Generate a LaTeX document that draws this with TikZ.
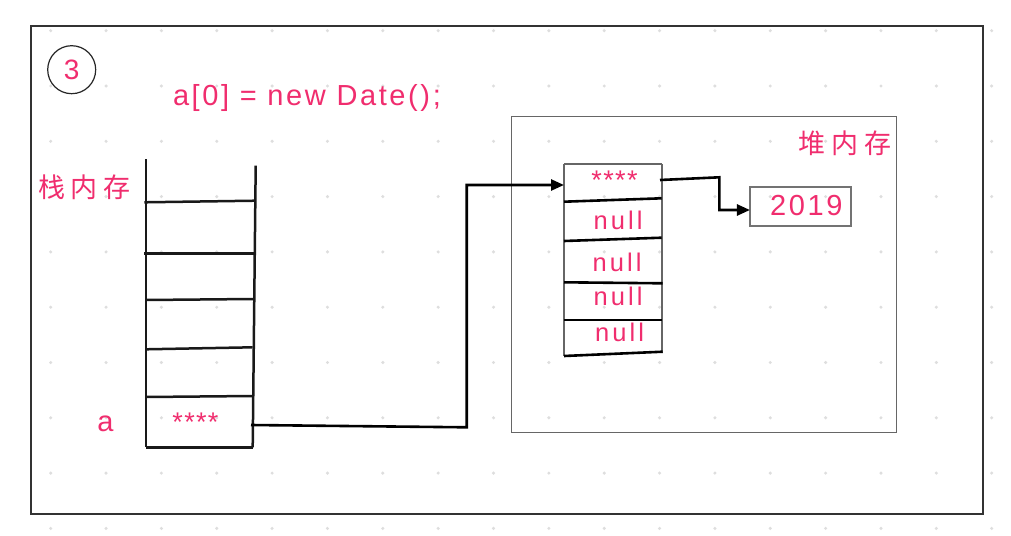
\documentclass[tikz,border=0pt]{standalone}
\usepackage{fontspec}
\setmainfont{Liberation Sans}
\newfontfamily\cjk{Noto Sans CJK SC}
\usetikzlibrary{arrows.meta}
\definecolor{pk}{RGB}{240,45,110}
\definecolor{dotc}{RGB}{222,222,222}
\begin{document}
\begin{tikzpicture}[x=1pt,y=-1pt,
  txt/.style={text=pk, inner sep=0pt, outer sep=0pt},
  big/.style={txt, font=\fontsize{29}{34}\selectfont\addfontfeatures{LetterSpace=9}},
  mid/.style={txt, font=\fontsize{25.5}{30}\selectfont\addfontfeatures{LetterSpace=12}},
  stars/.style={txt, font=\fontsize{27}{30}\selectfont\addfontfeatures{LetterSpace=5}},
  cjkl/.style={txt, font=\cjk\fontsize{27}{30}\selectfont},
  stackline/.style={line width=2.5pt, draw=black!90},
  sepline/.style={line width=2.6pt, draw=black},
  sideline/.style={line width=2.4pt, draw=black!60},
  conn/.style={line width=2.6pt, draw=black, -{Triangle[length=13pt,width=11pt]}},
  ]
\useasboundingbox (0,0) rectangle (1011,535);
\fill[white] (0,0) rectangle (1011,535);
% grid dots
\foreach \i in {0,...,17}
  \foreach \j in {0,...,9}
    \fill[dotc] (50.7+55.35*\i, 30.7+55.3*\j) circle (1.7);
% frame
\draw[line width=1.4pt, draw=black!80] (31,26) rectangle (983,514);
% circle 3
\node[circle, draw=black!85, line width=1.2pt, minimum size=48pt, inner sep=0pt, text=pk,
      font=\fontsize{28}{32}\selectfont] (c3) at (71.7,69.7) {3};
% code
\node[big, anchor=base west] (code) at (173,105) {a[0] = new Date();};
% stack label
\node[cjkl, anchor=west] (stk) at (38,187) {栈\hspace{6pt}内\hspace{6pt}存};
% stack
\draw[stackline] (146,159) -- (146,447.3);
\draw[stackline] (255.7,165.7) -- (252.7,447.3);
\draw[stackline] (144.3,202.3) -- (255.7,200.7);
\draw[stackline] (144.3,253.7) -- (255.7,253.7);
\draw[stackline] (146,300) -- (253.3,299);
\draw[stackline] (146,349.3) -- (252.7,347.3);
\draw[stackline] (146,397) -- (252.7,396);
\draw[stackline] (146,447.3) -- (252.7,447.3);
\node[big, anchor=base] (alab) at (105.5,431) {a};
\node[stars, anchor=base] (s5) at (195.5,431.5) {****};
\coordinate (s5out) at (251,425);
% heap
\draw[line width=1.4pt, draw=black!60] (511.7,116.7) rectangle (896.7,432.7);
\node[cjkl, anchor=west] (hp) at (798,143) {堆\hspace{6pt}内\hspace{6pt}存};
% heap array
\node[inner sep=0pt, outer sep=0pt, minimum width=98pt, minimum height=36pt, anchor=north west] (h0) at (564,164) {};
\draw[sideline] (564,164) -- (662,164);
\draw[sideline] (564,164) -- (564,356);
\draw[sideline] (662,164) -- (662,353);
\draw[sepline] (564,201.7) -- (661.7,198.3);
\draw[sepline] (564,241) -- (661.7,237.7);
\draw[sepline] (564,282.3) -- (662.7,283.3);
\draw[sepline] (564,320) -- (661.7,320);
\draw[sepline] (564,356) -- (662.7,351.7);
\node[stars, anchor=base] (hs) at (614.5,189.5) {****};
\node[mid, anchor=base] (n1) at (618,229) {null};
\node[mid, anchor=base] (n2) at (617,271) {null};
\node[mid, anchor=base] (n3) at (618,305) {null};
\node[mid, anchor=base] (n4) at (619.5,341) {null};
\coordinate (h0out) at (660,180);
% 2019 box
\node[draw=black!55, line width=2.2pt, inner sep=0pt, outer sep=0pt, minimum width=100.7pt, minimum height=39.3pt] (y2019) at (800.3,206.4) {};
\node[big, anchor=base] (y2019t) at (806.3,215.7) {2019};
% connectors
\draw[conn] (s5out) -- (466.7,427.3) |- ([yshift=-3pt]h0.west);
\draw[conn] (h0out) -- (719.3,177.3) |- ([yshift=-3.6pt]y2019.west);
\end{tikzpicture}
\end{document}
